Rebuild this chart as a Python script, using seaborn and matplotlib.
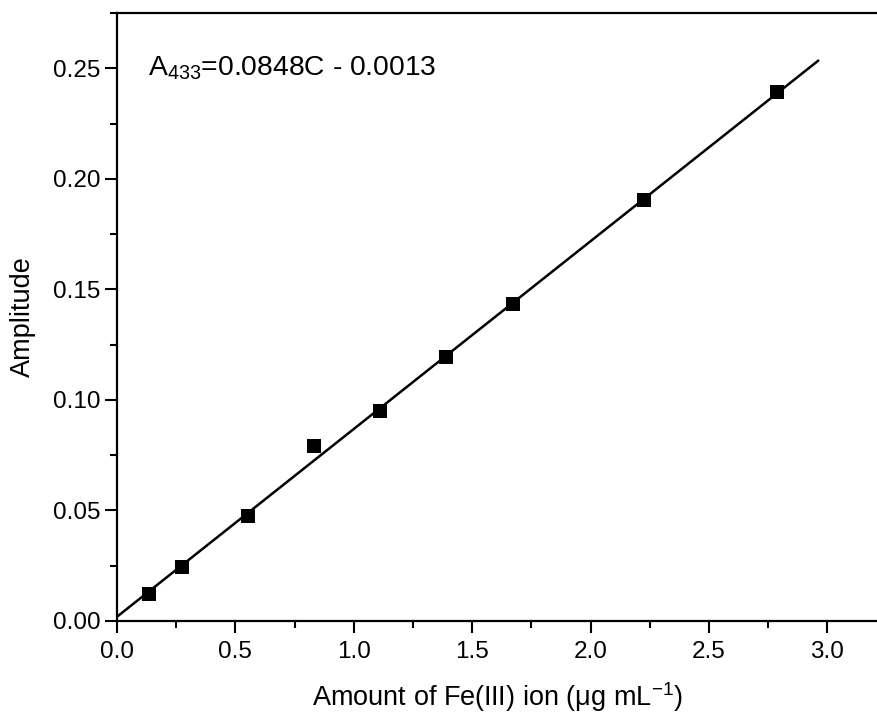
import matplotlib
matplotlib.use('Agg')
import matplotlib.pyplot as plt
import numpy as np
import pandas as pd
import seaborn as sns
from matplotlib.ticker import MultipleLocator

# concentration of Fe(III) (ug/mL) and measured amplitude
conc = [0.137, 0.275, 0.554, 0.831, 1.112, 1.391, 1.672, 2.228, 2.789]
amp = [0.0124, 0.0244, 0.0474, 0.0792, 0.0952, 0.1193, 0.1433, 0.1904, 0.2392]
fit_x = [0.0, 2.962]

sns.set_style('ticks')
plt.rcParams['font.family'] = ['Liberation Sans', 'DejaVu Sans']
plt.rcParams['mathtext.fontset'] = 'custom'
plt.rcParams['mathtext.rm'] = 'Liberation Sans'
plt.rcParams['mathtext.it'] = 'Liberation Sans:italic'
plt.rcParams['text.color'] = 'black'
plt.rcParams['axes.labelcolor'] = 'black'

df = pd.DataFrame({'conc': conc, 'amp': amp})
slope, icpt = np.polyfit(df['conc'], df['amp'], 1)
line = pd.DataFrame({'x': fit_x, 'y': [slope * v + icpt for v in fit_x]})

fig = plt.figure(figsize=(8.77, 7.21), dpi=100)
ax = fig.add_axes([0.1334, 0.1387, 0.8666, 0.8433])

sns.lineplot(data=line, x='x', y='y', color='black', linewidth=1.8, ax=ax)
sns.scatterplot(data=df, x='conc', y='amp', marker='s', s=110, color='black',
                edgecolor='black', linewidth=0, ax=ax, zorder=3)

ax.set_xlim(0, 3.21)
ax.set_ylim(0, 0.2751)
ax.xaxis.set_major_locator(MultipleLocator(0.5))
ax.xaxis.set_minor_locator(MultipleLocator(0.25))
ax.yaxis.set_major_locator(MultipleLocator(0.05))
ax.yaxis.set_minor_locator(MultipleLocator(0.025))
ax.xaxis.set_major_formatter(matplotlib.ticker.FormatStrFormatter('%.1f'))
ax.yaxis.set_major_formatter(matplotlib.ticker.FormatStrFormatter('%.2f'))

ax.tick_params(which='major', direction='out', length=8.5, width=1.5, labelsize=17.5,
               color='black', labelcolor='black')
ax.tick_params(which='minor', direction='out', length=5, width=1.5, color='black')
ax.tick_params(top=False, right=False, which='both')
ax.tick_params(axis='x', pad=6)

for side in ['left', 'bottom', 'top']:
    ax.spines[side].set_linewidth(1.6)
    ax.spines[side].set_color('black')
ax.spines['right'].set_visible(False)

ax.set_xlabel('Amount of Fe(III) ion (\u03bcg mL$^{-1}$)', fontsize=19.5, labelpad=12)
ax.set_ylabel('Amplitude', fontsize=19.5, labelpad=12)

ax.text(0.129, 0.247, r'A$_{433}$=0.0848C - 0.0013', fontsize=20.3, color='black')

fig.savefig('out.png', dpi=100)
